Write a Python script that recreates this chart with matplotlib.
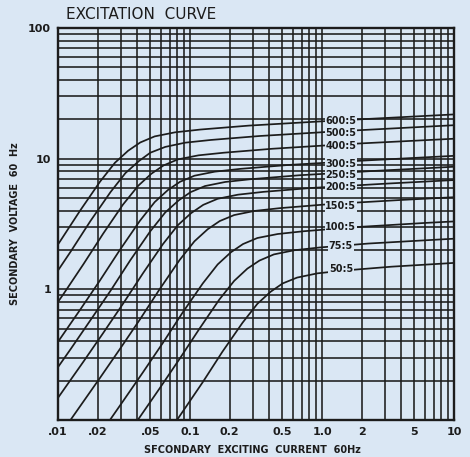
import matplotlib
matplotlib.use("Agg")
import matplotlib.pyplot as plt
from matplotlib.ticker import NullFormatter

# ratios and readings (current A, voltage V)
ratios = ["600:5", "500:5", "400:5", "300:5", "250:5", "200:5", "150:5", "100:5", "75:5", "50:5"]

i_600 = [0.003, 0.0052, 0.0073, 0.0104, 0.0147, 0.0208, 0.027, 0.034, 0.042, 0.054, 0.077, 0.12, 0.28, 1.0, 10]
v_600 = [0.38, 0.84, 1.38, 2.34, 4.0, 6.66, 9.3, 11.5, 13.3, 14.8, 15.9, 16.7, 17.9, 19.3, 21.8]
i_500 = [0.0036, 0.0062, 0.0088, 0.0125, 0.0176, 0.025, 0.0324, 0.041, 0.050, 0.065, 0.092, 0.144, 0.336, 1.2, 12]
v_500 = [0.32, 0.70, 1.15, 1.95, 3.33, 5.55, 7.75, 9.58, 11.1, 12.3, 13.25, 13.9, 14.9, 16.1, 18.2]
i_400 = [0.0045, 0.0078, 0.011, 0.0156, 0.022, 0.031, 0.0405, 0.051, 0.063, 0.081, 0.116, 0.18, 0.42, 1.5, 15]
v_400 = [0.25, 0.56, 0.92, 1.56, 2.67, 4.44, 6.2, 7.67, 8.87, 9.87, 10.6, 11.1, 11.9, 12.9, 14.5]
i_300 = [0.006, 0.0104, 0.0146, 0.0208, 0.0294, 0.0416, 0.054, 0.068, 0.084, 0.108, 0.154, 0.24, 0.56, 2.0, 20]
v_300 = [0.19, 0.42, 0.69, 1.17, 2.0, 3.33, 4.65, 5.75, 6.65, 7.4, 7.95, 8.35, 8.95, 9.65, 10.9]
i_250 = [0.0072, 0.0125, 0.0175, 0.025, 0.0353, 0.05, 0.065, 0.082, 0.101, 0.13, 0.185, 0.288, 0.672, 2.4, 24]
v_250 = [0.158, 0.35, 0.575, 0.975, 1.67, 2.78, 3.88, 4.79, 5.54, 6.17, 6.63, 6.96, 7.46, 8.04, 9.08]
i_200 = [0.009, 0.0156, 0.0219, 0.0312, 0.0441, 0.0624, 0.081, 0.102, 0.126, 0.162, 0.231, 0.36, 0.84, 3.0, 30]
v_200 = [0.127, 0.28, 0.46, 0.78, 1.33, 2.22, 3.1, 3.83, 4.43, 4.93, 5.3, 5.57, 5.97, 6.43, 7.27]
i_150 = [0.012, 0.0208, 0.0292, 0.0416, 0.0588, 0.0832, 0.108, 0.136, 0.168, 0.216, 0.308, 0.48, 1.12, 4.0, 40]
v_150 = [0.095, 0.21, 0.345, 0.585, 1.0, 1.67, 2.33, 2.88, 3.33, 3.7, 3.98, 4.18, 4.48, 4.83, 5.45]
i_100 = [0.018, 0.0312, 0.0438, 0.0624, 0.0882, 0.125, 0.162, 0.204, 0.252, 0.324, 0.462, 0.72, 1.68, 6.0, 60]
v_100 = [0.063, 0.14, 0.23, 0.39, 0.667, 1.11, 1.55, 1.92, 2.22, 2.47, 2.65, 2.78, 2.98, 3.22, 3.63]
i_75 = [0.024, 0.0416, 0.0584, 0.0832, 0.118, 0.166, 0.216, 0.272, 0.336, 0.432, 0.616, 0.96, 2.24, 8.0, 80]
v_75 = [0.0475, 0.105, 0.1725, 0.2925, 0.5, 0.83, 1.16, 1.44, 1.66, 1.85, 1.99, 2.09, 2.24, 2.41, 2.73]
i_50 = [0.036, 0.0624, 0.0876, 0.125, 0.176, 0.25, 0.324, 0.408, 0.504, 0.648, 0.924, 1.44, 3.36, 12]
v_50 = [0.032, 0.07, 0.115, 0.195, 0.333, 0.555, 0.775, 0.958, 1.11, 1.23, 1.325, 1.39, 1.49, 1.61]

curves_i = [i_600, i_500, i_400, i_300, i_250, i_200, i_150, i_100, i_75, i_50]
curves_v = [v_600, v_500, v_400, v_300, v_250, v_200, v_150, v_100, v_75, v_50]

# where the ratio labels sit
label_i = 1.39
label_v = [19.3, 15.6, 12.4, 9.15, 7.54, 6.09, 4.35, 3.0, 2.14, 1.43]

xticks = [0.01, 0.02, 0.05, 0.1, 0.2, 0.5, 1.0, 2, 5, 10]
xticklabels = [".01", ".02", ".05", "0.1", "0.2", "0.5", "1.0", "2", "5", "10"]
yticks = [1, 10, 100]
yticklabels = ["1", "10", "100"]

bg = "#dae7f4"
ink = "#1c1c1c"
narrow = ["Liberation Sans Narrow", "DejaVu Sans"]

fig = plt.figure(figsize=(4.7, 4.57), dpi=100, facecolor=bg)
ax = fig.add_axes([0.1234, 0.081, 0.8426, 0.8578])
ax.set_facecolor(bg)
ax.set_xscale("log")
ax.set_yscale("log")
ax.set_xlim(0.01, 10)
ax.set_ylim(0.1, 100)

ax.grid(True, which="both", color=ink, lw=1.15)
ax.set_axisbelow(True)

for xs, ys in zip(curves_i, curves_v):
    ax.plot(xs, ys, color=ink, lw=1.25, solid_capstyle="round")

for name, lv in zip(ratios, label_v):
    ax.text(label_i, lv, name, ha="center", va="center", fontsize=7,
            fontweight="bold", family=narrow, color=ink,
            bbox=dict(fc=bg, ec="none", pad=0.5))

ax.set_xticks(xticks)
ax.set_xticklabels(xticklabels)
ax.set_yticks(yticks)
ax.set_yticklabels(yticklabels)
ax.xaxis.set_minor_formatter(NullFormatter())
ax.yaxis.set_minor_formatter(NullFormatter())
ax.tick_params(which="both", length=0, labelsize=8, colors=ink, pad=5)
for lab in ax.get_xticklabels() + ax.get_yticklabels():
    lab.set_fontweight("bold")
    lab.set_family(narrow)

for s in ax.spines.values():
    s.set_color(ink)
    s.set_linewidth(1.7)

ax.set_xlabel("SFCONDARY  EXCITING  CURRENT  60Hz", fontsize=7, family=narrow,
              color=ink, fontweight="bold")
ax.xaxis.set_label_coords(0.49, -0.065)
ax.set_ylabel("SECONDARY  VOLTAGE  60  Hz", fontsize=7, family=narrow,
              color=ink, fontweight="bold")
ax.yaxis.set_label_coords(-0.095, 0.5)
fig.text(0.14, 0.968, "EXCITATION  CURVE", fontsize=11, family=narrow,
         color=ink, va="center")

fig.savefig("out.png", dpi=100, facecolor=bg)
